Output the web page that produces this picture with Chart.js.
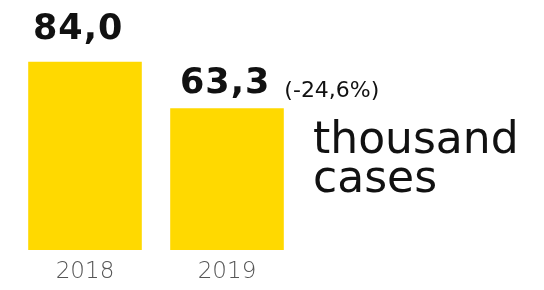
<!DOCTYPE html>
<html>
<head>
<meta charset="utf-8">
<script src="https://cdn.jsdelivr.net/npm/chart.js@4"></script>
<style>
  body { margin: 0; background: #fff; }
</style>
</head>
<body>
<canvas id="casesChart" width="544" height="290"></canvas>
<script>
// данные
const years = ['2018', '2019'];
const cases = [84.0, 63.3];
const unitLines = ['thousand', 'cases'];

const fmt = v => v.toFixed(1).replace('.', ',');

// подписи над столбцами + единицы справа
const valueLabels = {
  id: 'valueLabels',
  afterDatasetsDraw(chart) {
    const {ctx, chartArea} = chart;
    const bars = chart.getDatasetMeta(0).data;
    ctx.save();
    ctx.fillStyle = '#111';
    ctx.textBaseline = 'alphabetic';

    // первый столбец
    ctx.font = 'bold 35px "DejaVu Sans"';
    ctx.letterSpacing = '1px';
    ctx.textAlign = 'left';
    ctx.fillText(fmt(cases[0]), bars[0].x - 52, bars[0].y - 23);

    // второй столбец + изменение
    const x2 = bars[1].x - 47;
    const t2 = fmt(cases[1]);
    ctx.fillText(t2, x2, bars[1].y - 15);
    const w2 = ctx.measureText(t2).width;
    const pct = (cases[1] - cases[0]) / cases[0] * 100;
    ctx.font = '22px "DejaVu Sans"';
    ctx.letterSpacing = '0px';
    ctx.fillText('(' + fmt(pct) + '%)', x2 + w2 + 14, bars[1].y - 11);

    // thousand cases
    ctx.font = '44px "DejaVu Sans"';
    unitLines.forEach((line, i) => {
      ctx.fillText(line, chartArea.right + 15, 153 + i * 39);
    });
    ctx.restore();
  }
};

new Chart(document.getElementById('casesChart'), {
  type: 'bar',
  data: {
    labels: years,
    datasets: [{
      data: cases,
      backgroundColor: '#FFD900',
      borderWidth: 0,
      barPercentage: 0.8,
      categoryPercentage: 1.0
    }]
  },
  options: {
    responsive: false,
    animation: false,
    layout: {
      padding: { left: 14, right: 246, top: 26, bottom: 5 }
    },
    plugins: {
      legend: { display: false },
      tooltip: { enabled: false }
    },
    scales: {
      x: {
        grid: { display: false },
        border: { display: false },
        afterFit(scale) { scale.height = 35; },
        ticks: {
          color: '#555',
          padding: 0,
          font: { family: 'DejaVu Sans', size: 23, weight: '200' }
        }
      },
      y: {
        display: false,
        min: 0,
        max: 100
      }
    }
  },
  plugins: [valueLabels]
});
</script>
</body>
</html>
